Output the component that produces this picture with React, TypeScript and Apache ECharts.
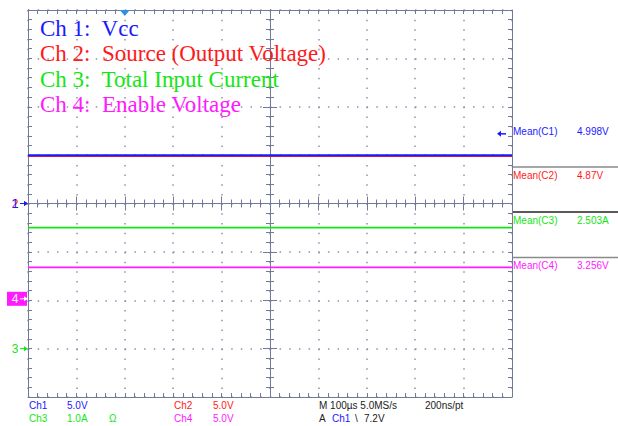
import React, { useEffect, useRef } from "react";
import * as echarts from "echarts";

// ---------- data ----------
const channelIds = ["C1", "C2", "C3", "C4"];
const channelShort = ["Ch1", "Ch2", "Ch3", "Ch4"];
const channelLabels = [
  "Ch 1:  Vcc",
  "Ch 2:  Source (Output Voltage)",
  "Ch 3:  Total Input Current",
  "Ch 4:  Enable Voltage",
];
const meanValues = [4.998, 4.87, 2.503, 3.256];
const meanUnits = ["V", "V", "A", "V"];
const scaleLabels = ["5.0V", "5.0V", "1.0A", "5.0V"];
const scalePerDiv = [5, 5, 1, 5];
const groundDiv = [0, 0, -3, -1.97];
const timeSpan = [0, 1000]; // µs, 100 µs/div
const triggerTime = 200; // µs
const triggerLevel = 7.2; // V on Ch1
const timebaseText = "M 100\u00b5s 5.0MS/s";
const resolutionText = "200ns/pt";

// ---------- style ----------
const colors = ["#1a1aff", "#ff1a1a", "#14e614", "#ff1aff"];
const gridColor = "#717a98";
const dotColor = "#8c92aa";
const small = '10px "Liberation Sans", Arial, sans-serif';

export default function App() {
  const ref = useRef<HTMLDivElement>(null);
  useEffect(() => {
    if (!ref.current) return;
    const chart = echarts.init(ref.current, undefined, { renderer: "svg" });

    const tickBase = (inside: boolean, len: number) => ({
      axisLabel: { show: false },
      axisLine: { show: true, onZero: false, lineStyle: { color: gridColor, width: 1 } },
      axisTick: { show: true, inside, length: len, lineStyle: { color: gridColor, width: 1 } },
      minorTick: { show: true, splitNumber: 5, length: 4, lineStyle: { color: gridColor, width: 1 } },
      splitLine: { show: false },
    });
    const xBase = { type: "value", min: timeSpan[0], max: timeSpan[1], interval: 100 };
    const yBase = { type: "value", min: -4, max: 4, interval: 1 };

    const xAxis = [
      {
        ...xBase, ...tickBase(true, 4), position: "bottom",
        splitLine: { show: true, lineStyle: { color: dotColor, width: 1.5, type: [1.5, 8.18] } },
      },
      { ...xBase, ...tickBase(true, 4), position: "top" },
      { ...xBase, ...tickBase(true, 7), position: "bottom", offset: -193.5 },
      { ...xBase, ...tickBase(false, 7), position: "bottom", offset: -193.5 },
    ];
    const yAxis = [
      {
        ...yBase, ...tickBase(true, 4), position: "left",
        splitLine: { show: true, lineStyle: { color: dotColor, width: 1.5, type: [1.5, 8.175] } },
      },
      { ...yBase, ...tickBase(true, 4), position: "right" },
      { ...yBase, ...tickBase(true, 7), position: "left", offset: -242 },
      { ...yBase, ...tickBase(false, 7), position: "left", offset: -242 },
    ];

    const levels = meanValues.map((m, i) => groundDiv[i] + m / scalePerDiv[i]);
    const traceOrder = [1, 2, 3, 0];
    const traceSeries = traceOrder.map((i) => ({
      type: "line",
      name: channelIds[i],
      xAxisIndex: 0,
      yAxisIndex: 0,
      showSymbol: false,
      symbol: "none",
      silent: true,
      lineStyle: { color: colors[i], width: i === 0 ? 2 : i === 1 ? 1.2 : 1.8 },
      data: [
        [timeSpan[0], levels[i]],
        [timeSpan[1], levels[i]],
      ],
      z: 3,
    }));

    const markerOrder = [1, 0, 3, 2];
    const markerSeries = {
      type: "custom",
      xAxisIndex: 0,
      yAxisIndex: 0,
      silent: true,
      z: 5,
      data: markerOrder.map((i) => [i, groundDiv[i]]),
      renderItem: (_p: any, api: any) => {
        const ch = api.value(0);
        const g = api.value(1);
        const [x0, y] = api.coord([timeSpan[0], g]);
        const boxed = ch === 3;
        const fg = boxed ? "#ffffff" : colors[ch];
        const children: any[] = [];
        if (boxed) {
          children.push({ type: "rect", shape: { x: x0 - 21, y: y - 7, width: 20, height: 14 }, style: { fill: colors[ch] } });
        }
        children.push({
          type: "text",
          x: x0 - 13,
          y: y,
          style: { text: String(ch + 1), fill: fg, font: '12px "Liberation Sans", Arial', align: "center", verticalAlign: "middle" },
        });
        children.push({ type: "line", shape: { x1: x0 - 8, y1: y, x2: x0 - 3, y2: y }, style: { stroke: fg, lineWidth: 1 } });
        children.push({ type: "polygon", shape: { points: [[x0 - 4, y - 2.5], [x0, y], [x0 - 4, y + 2.5]] }, style: { fill: fg } });
        return { type: "group", children };
      },
    };

    const triggerSeries = {
      type: "custom",
      xAxisIndex: 0,
      yAxisIndex: 0,
      silent: true,
      z: 6,
      data: [
        [triggerTime, 4, 0],
        [timeSpan[1], groundDiv[0] + triggerLevel / scalePerDiv[0], 1],
      ],
      renderItem: (_p: any, api: any) => {
        const [x, y] = api.coord([api.value(0), api.value(1)]);
        if (api.value(2) === 0) {
          return { type: "polygon", shape: { points: [[x - 5, y], [x + 5, y], [x, y + 6]] }, style: { fill: "#2f8fe0" } };
        }
        return {
          type: "group",
          children: [
            { type: "line", shape: { x1: x - 12, y1: y, x2: x - 6, y2: y }, style: { stroke: colors[0], lineWidth: 1.5 } },
            { type: "polygon", shape: { points: [[x - 11, y - 3], [x - 15, y], [x - 11, y + 3]] }, style: { fill: colors[0] } },
          ],
        };
      },
    };

    const graphics: any[] = [];
    const legendY = [28, 53.5, 79, 104.5];
    channelLabels.forEach((t, i) => {
      graphics.push({
        type: "text", x: 40, y: legendY[i], z: 10,
        style: { text: t, fill: colors[i], font: '23px "Liberation Serif", "Times New Roman", serif', verticalAlign: "middle" },
      });
    });
    const panelY = [131, 175, 220, 265.5];
    meanValues.forEach((m, i) => {
      graphics.push({ type: "text", x: 513, y: panelY[i], style: { text: `Mean(${channelIds[i]})`, fill: colors[i], font: small, verticalAlign: "middle" } });
      graphics.push({ type: "text", x: 577, y: panelY[i], style: { text: `${m}${meanUnits[i]}`, fill: colors[i], font: small, verticalAlign: "middle" } });
    });
    const sepY = [167, 212, 257.5];
    const sepCol = ["#8a8a8a", "#222222", "#8a8a8a"];
    sepY.forEach((y, i) => {
      graphics.push({ type: "line", shape: { x1: 512, y1: y, x2: 618, y2: y }, style: { stroke: sepCol[i], lineWidth: 1.5 } });
    });
    const row1 = 405;
    const row2 = 418;
    const bottomTexts: [string, number, number, string][] = [
      [channelShort[0], 29, row1, colors[0]],
      [scaleLabels[0], 67, row1, colors[0]],
      [channelShort[1], 174, row1, colors[1]],
      [scaleLabels[1], 213, row1, colors[1]],
      [channelShort[2], 29, row2, colors[2]],
      [scaleLabels[2], 67, row2, colors[2]],
      ["\u03a9", 109, row2, colors[2]],
      [channelShort[3], 174, row2, colors[3]],
      [scaleLabels[3], 213, row2, colors[3]],
      [timebaseText, 319, row1, "#222222"],
      [resolutionText, 425, row1, "#222222"],
      ["A", 319, row2, "#222222"],
      [channelShort[0], 332, row2, colors[0]],
      ["\\", 355, row2, "#222222"],
      [`${triggerLevel}V`, 364, row2, "#222222"],
    ];
    bottomTexts.forEach(([t, x, y, c]) => {
      graphics.push({ type: "text", x, y, style: { text: t, fill: c, font: small, verticalAlign: "middle" } });
    });

    chart.setOption({
      animation: false,
      backgroundColor: "#ffffff",
      grid: { left: 28, top: 10, width: 484, height: 387, containLabel: false, outerBoundsMode: "none", show: false },
      xAxis,
      yAxis,
      series: [...traceSeries, markerSeries, triggerSeries],
      graphic: graphics,
    } as any);

    return () => chart.dispose();
  }, []);

  return (
    <div
      ref={ref}
      style={{ position: "fixed", left: 0, top: 0, width: 618, height: 426, background: "#fff" }}
    />
  );
}
